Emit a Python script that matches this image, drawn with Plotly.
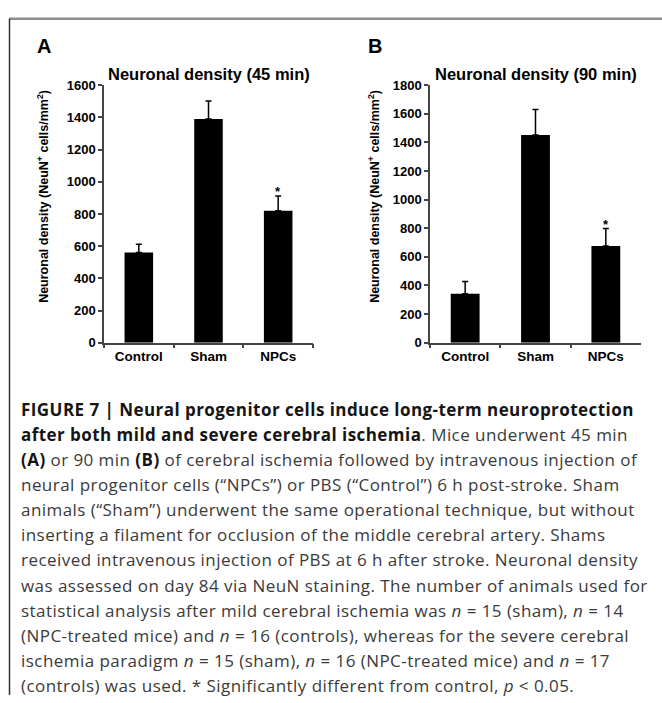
import plotly.graph_objects as go

# ---------------- data ----------------
categories = ["Control", "Sham", "NPCs"]
density_45 = [560, 1390, 820]
error_45 = [52, 112, 92]
density_90 = [342, 1452, 676]
error_90 = [86, 178, 122]
signif_45 = ["", "", "*"]
signif_90 = ["", "", "*"]
ticks_45 = [0, 200, 400, 600, 800, 1000, 1200, 1400, 1600]
ticks_90 = [0, 200, 400, 600, 800, 1000, 1200, 1400, 1600, 1800]
titles = ["Neuronal density (45 min)", "Neuronal density (90 min)"]
panel_letters = ["A", "B"]
y_title = "Neuronal density (NeuN<sup>+</sup> cells/mm<sup>2</sup>)"

caption_lines = [
    "<b>FIGURE 7 | Neural progenitor cells induce long-term neuroprotection</b>",
    "<b>after both mild and severe cerebral ischemia</b>. Mice underwent 45 min",
    "<b>(A)</b> or 90 min <b>(B)</b> of cerebral ischemia followed by intravenous injection of",
    "neural progenitor cells (\u201cNPCs\u201d) or PBS (\u201cControl\u201d) 6 h post-stroke. Sham",
    "animals (\u201cSham\u201d) underwent the same operational technique, but without",
    "inserting a filament for occlusion of the middle cerebral artery. Shams",
    "received intravenous injection of PBS at 6 h after stroke. Neuronal density",
    "was assessed on day 84 via NeuN staining. The number of animals used for",
    "statistical analysis after mild cerebral ischemia was <i>n</i> = 15 (sham), <i>n</i> = 14",
    "(NPC-treated mice) and <i>n</i> = 16 (controls), whereas for the severe cerebral",
    "ischemia paradigm <i>n</i> = 15 (sham), <i>n</i> = 16 (NPC-treated mice) and <i>n</i> = 17",
    "(controls) was used. * Significantly different from control, <i>p</i> &lt; 0.05.",
]

# ---------------- layout geometry ----------------
W, H = 662, 703
def px(x):
    return x / W
def py(y):
    return 1 - y / H

FONT = "Arial, Liberation Sans, sans-serif"
CAP_FONT = "Open Sans, Liberation Sans, sans-serif"
AX = "#444444"

fig = go.Figure()

panels = [
    dict(vals=density_45, err=error_45, sig=signif_45, ticks=ticks_45, rng=[0, 1600],
         xdom=[px(104), px(313)], xa="x", ya="y", ytitle_x=43, letter_x=35),
    dict(vals=density_90, err=error_90, sig=signif_90, ticks=ticks_90, rng=[0, 1800],
         xdom=[px(430), px(641)], xa="x2", ya="y2", ytitle_x=374, letter_x=366),
]
ydom = [py(343), py(80)]

annotations = []
for i, p in enumerate(panels):
    fig.add_trace(go.Bar(
        x=categories, y=p["vals"], xaxis=p["xa"], yaxis=p["ya"],
        marker=dict(color="black", line=dict(width=0)), width=0.41,
        error_y=dict(type="data", array=p["err"], arrayminus=[0] * 3, symmetric=False,
                     color="black", thickness=1.5, width=3),
        showlegend=False,
    ))
    suffix = "" if i == 0 else "2"
    fig.layout["xaxis" + suffix] = dict(
        domain=p["xdom"], anchor="y" + suffix, type="category",
        showline=True, linecolor=AX, linewidth=1.5, ticks="outside", ticklen=4,
        tickcolor=AX, tickwidth=1.5, tickson="boundaries", showgrid=False,
        tickfont=dict(family=FONT, size=13.5, color="black", weight="bold"),
        range=[-0.5, 2.5], fixedrange=True,
    )
    fig.layout["yaxis" + suffix] = dict(
        domain=ydom, anchor="x" + suffix, range=p["rng"], tickvals=p["ticks"],
        showline=True, linecolor=AX, linewidth=1.5, ticks="outside", ticklen=4,
        tickcolor=AX, tickwidth=1.5, showgrid=False, zeroline=False,
        tickfont=dict(family=FONT, size=13, color="black", weight="bold"),
        fixedrange=True,
    )
    # title
    annotations.append(dict(
        text="<b>" + titles[i] + "</b>", xref="paper", yref="paper",
        x=(p["xdom"][0] + p["xdom"][1]) / 2, y=py(68), xanchor="center", yanchor="middle",
        showarrow=False, font=dict(family=FONT, size=16.5, color="black"),
    ))
    # letter
    annotations.append(dict(
        text="<b>" + panel_letters[i] + "</b>", xref="paper", yref="paper",
        x=px(p["letter_x"]), y=py(40), xanchor="left", yanchor="middle",
        showarrow=False, font=dict(family=FONT, size=20, color="black"),
    ))
    # y title
    annotations.append(dict(
        text="<b>" + y_title + "</b>", xref="paper", yref="paper",
        x=px(p["ytitle_x"]), y=py(194), xanchor="center", yanchor="middle",
        textangle=-90, showarrow=False, font=dict(family=FONT, size=12.5, color="black"),
    ))
    # significance markers
    for c, v, e, s in zip(categories, p["vals"], p["err"], p["sig"]):
        if s:
            annotations.append(dict(
                text="<b>" + s + "</b>", xref=p["xa"], yref=p["ya"], x=c, y=v + e,
                xanchor="center", yanchor="middle", yshift=4, showarrow=False,
                font=dict(family=FONT, size=13, color="black"),
            ))

# caption
line_y0, line_dy = 410.8, 25.7
for k, line in enumerate(caption_lines):
    styled = line.replace("<b>", '<b><span style="color:#151515">').replace("</b>", "</span></b>")
    annotations.append(dict(
        text='<span style="letter-spacing:0.45px">' + styled + "</span>",
        xref="paper", yref="paper", x=px(19), y=py(line_y0 + k * line_dy),
        xanchor="left", yanchor="middle", showarrow=False, align="left",
        font=dict(family=CAP_FONT, size=17, color="#3a3a3a"),
    ))

frame = [
    dict(type="line", xref="paper", yref="paper", x0=px(9), x1=1, y0=py(12), y1=py(12),
         line=dict(color="#8c8c8c", width=2.5)),
    dict(type="line", xref="paper", yref="paper", x0=px(9.5), x1=px(9.5), y0=py(12), y1=0,
         line=dict(color="#333333", width=1.5)),
]

fig.update_layout(
    width=W, height=H, margin=dict(l=0, r=0, t=0, b=0),
    paper_bgcolor="white", plot_bgcolor="white",
    annotations=annotations, shapes=frame, bargap=0.59,
)

fig.write_html("out.html", config={"displayModeBar": False},
               post_script="document.body.style.margin='0px';document.body.style.overflow='hidden';")
